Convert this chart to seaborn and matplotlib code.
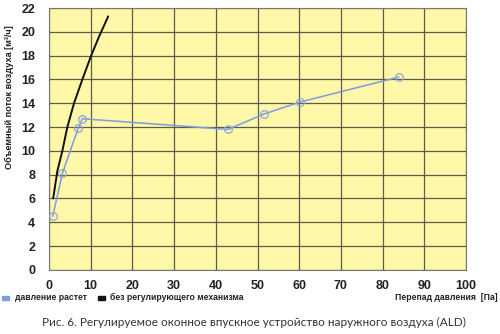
import matplotlib
matplotlib.use("Agg")
import matplotlib.pyplot as plt
import seaborn as sns
import pandas as pd
from matplotlib.patches import Rectangle

sns.set_theme(style="white")
plt.rcParams['font.family'] = ['Liberation Sans', 'DejaVu Sans']

# data
dp_ald = [0.9, 3.2, 7.0, 8.0, 42.9, 51.6, 60.2, 83.9]
q_ald = [4.5, 8.1, 11.9, 12.7, 11.8, 13.1, 14.1, 16.2]
dp_free = [1.0, 2.0, 3.2, 4.4, 6.0, 8.0, 10.0, 12.0, 14.2]
q_free = [6.0, 8.3, 10.0, 12.0, 14.0, 16.0, 17.9, 19.6, 21.3]
x_ticks = list(range(0, 101, 10))
y_ticks = list(range(0, 23, 2))

series_ald = "давление растет"
series_free = "без регулирующего механизма"
ylabel = "Объемный поток воздуха [м³/ч]"
xlabel = "Перепад давления  [Па]"
caption = "Рис. 6. Регулируемое оконное впускное устройство наружного воздуха (ALD)"

df_ald = pd.DataFrame({"dp": dp_ald, "q": q_ald})
df_free = pd.DataFrame({"dp": dp_free, "q": q_free})

fig = plt.figure(figsize=(5.0, 3.34), dpi=100)
ax = fig.add_axes([0.098, 0.192, 0.834, 0.784])
ax.set_facecolor("#FFF8A8")

sns.lineplot(data=df_free, x="dp", y="q", ax=ax, color="#111111", lw=1.4, zorder=3)
sns.lineplot(data=df_ald, x="dp", y="q", ax=ax, color="#7C9BE0", lw=1.1, zorder=4,
             marker="o", markersize=5.5, markerfacecolor="none",
             markeredgecolor="#8FA6D8", markeredgewidth=0.9)

ax.set_xlim(0, 100)
ax.set_ylim(0, 22)
ax.set_xticks(x_ticks)
ax.set_yticks(y_ticks)
ax.set_xticklabels([str(v) for v in x_ticks], fontsize=9, fontweight="bold", color="#222")
ax.set_yticklabels([str(v) for v in y_ticks], fontsize=9, fontweight="bold", color="#222")
ax.tick_params(axis="x", pad=7, length=0)
ax.tick_params(axis="y", pad=10, length=0)
ax.grid(True, color="#5a5a50", lw=0.9)
ax.set_axisbelow(True)
for s in ax.spines.values():
    s.set_color("#777777")
    s.set_linewidth(0.8)
ax.set_xlabel("")
ax.set_ylabel("")

fig.text(0.019, 0.71, ylabel, rotation=90, ha="center", va="center",
         fontsize=6.6, fontweight="bold", color="#222")

# legend
fig.patches.append(Rectangle((0.004, 0.103), 0.014, 0.012, transform=fig.transFigure,
                             color="#7C9BE0", figure=fig))
fig.text(0.030, 0.109, series_ald, fontsize=6.2, fontweight="bold", va="center", color="#222")
fig.patches.append(Rectangle((0.196, 0.103), 0.014, 0.012, transform=fig.transFigure,
                             color="#111111", figure=fig))
fig.text(0.220, 0.109, series_free, fontsize=6.2, fontweight="bold", va="center", color="#222")
fig.text(0.995, 0.109, xlabel, fontsize=6.2, fontweight="bold", va="center", ha="right", color="#222")

fig.text(0.507, 0.035, caption, fontsize=8.5, ha="center", va="center", color="#333",
         family=["Lato", "DejaVu Sans"])

fig.savefig("out.png", dpi=100)
